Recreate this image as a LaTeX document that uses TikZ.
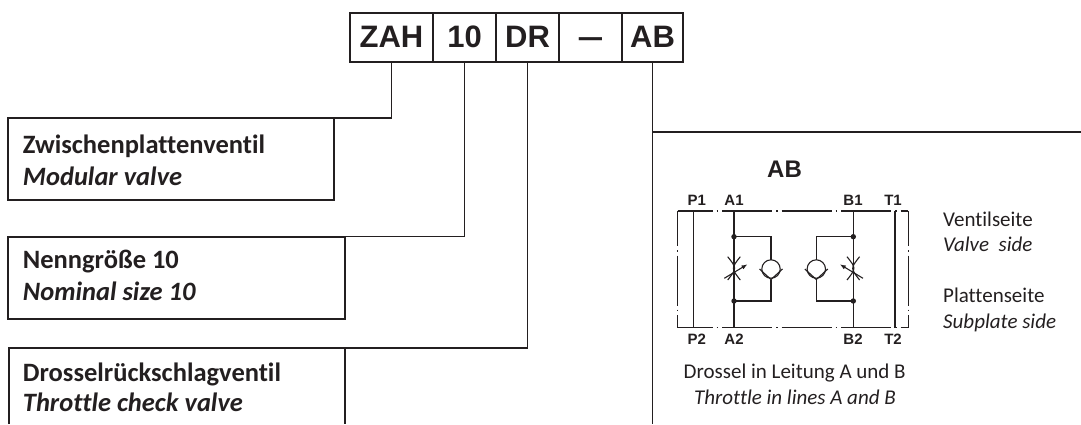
\documentclass[tikz,border=0pt]{standalone}
\usepackage{fontspec}
\setmainfont{Carlito}[Ligatures={NoCommon}]
\newfontfamily\arialfont{Liberation Sans}
\usepackage{tikz}
\usetikzlibrary{arrows.meta}
\definecolor{ink}{HTML}{231F20}
\tikzset{codebox/.style = {draw=ink, line width=2pt, inner sep=0pt, outer sep=0pt, minimum height=48.4pt, text height=22pt, text depth=2.5pt, font=\arialfont\bfseries\fontsize{31}{31}\selectfont}}
\tikzset{descbox/.style = {draw=ink, line width=2pt, inner sep=0pt, outer sep=0pt}}
\tikzset{desctext/.style = {anchor=base west, inner sep=0pt, font=\bfseries\fontsize{26.5}{30}\selectfont}}
\tikzset{desctextit/.style = {desctext, font=\bfseries\itshape\fontsize{26.5}{30}\selectfont}}
\tikzset{conn/.style = {draw=ink, line width=1.8pt}}
\tikzset{sidetext/.style = {anchor=base west, inner sep=0pt, font=\fontsize{21}{24}\selectfont}}
\tikzset{sidetextit/.style = {sidetext, font=\itshape\fontsize{21}{24}\selectfont}}
\tikzset{port/.style = {anchor=base, inner sep=0pt, font=\arialfont\bfseries\fontsize{15}{15}\selectfont}}
\tikzset{sym/.style = {draw=ink, line width=1.1pt}}
\tikzset{chain/.style = {sym, dash pattern=on 50pt off 4pt on 1.5pt off 4pt, dash phase=15pt}}

\begin{document}
\begin{tikzpicture}[x=1pt, y=-1pt, text=ink]
            \useasboundingbox (0,0) rectangle (1081,424);

            % Type code
            \node[codebox, minimum width=83pt] (zah) at (391.5,37.5) {ZAH};
            \node[codebox, minimum width=63pt] (nenn) at (464.5,37.5) {10};
            \node[codebox, minimum width=63pt] (dr) at (527.5,37.5) {DR};
            \node[codebox, minimum width=63pt] (sep) at (590.5,37.5) {\scalebox{0.75}[1]{—}};
            \node[codebox, minimum width=61pt] (ab) at (652.5,37.5) {AB};

            % Description boxes
            \node[descbox, minimum width=326pt, minimum height=81.2pt] (zwp) at (171,158.9) {};
            \node[descbox, minimum width=337pt, minimum height=82.5pt] (ngr) at (176.5,277.75) {};
            \node[inner sep=0pt, outer sep=0pt, minimum width=336pt, minimum height=76pt] (drv) at (176.5,386) {};
            \draw[draw=ink, line width=2pt] (drv.south west) |- (drv.north east) -- (drv.south east);

            \node[desctext] (zwp-de) at (22.7,153.3) {Zwischenplattenventil};
            \node[desctextit] (zwp-en) at (22.7,185) {Modular valve};
            \node[desctext] (ngr-de) at (22.7,268.3) {Nenngröße 10};
            \node[desctextit] (ngr-en) at (22.7,300) {Nominal size 10};
            \node[desctext] (drv-de) at (22.7,381) {Drosselrückschlagventil};
            \node[desctextit] (drv-en) at (22.7,411.7) {Throttle check valve};

            % Connectors
            \coordinate (abfoot) at (651.5,424);
            \coordinate (abend) at (1081,132);
            \draw[conn] (zah.south) |- (zwp.north east);
            \draw[conn] (nenn.south) |- (ngr.north east);
            \draw[conn] (dr.south) |- (drv.north east);
            \draw[conn] (ab.south) -- (ab.south |- abfoot);
            \draw[conn] (ab.south |- abend) -- (abend);

            % Symbol AB
            \node[anchor=base, inner sep=0pt, font=\arialfont\bfseries\fontsize{24}{24}\selectfont] (abtitle) at (784.5,177) {AB};
            \node[port] (p1) at (696.7,205) {P1};
            \node[port] (a1) at (734,205) {A1};
            \node[port] (b1) at (853,205) {B1};
            \node[port] (t1) at (893,205) {T1};
            \node[port] (p2) at (696.7,344) {P2};
            \node[port] (a2) at (734,344) {A2};
            \node[port] (b2) at (853,344) {B2};
            \node[port] (t2) at (893,344) {T2};

            \coordinate (nw) at (677.7,211);
            \coordinate (ne) at (908.3,211);
            \coordinate (sw) at (677.7,327.5);
            \coordinate (se) at (908.3,327.5);
            \draw[chain] (nw) -- (ne);
            \draw[chain] (sw) -- (se);
            \draw[chain] (nw) -- (sw);
            \draw[chain] (ne) -- (se);

            \foreach \x in {693.3,734,853.3,895}
                \draw[sym] (\x,211) -- (\x,327.5);

            % throttle and check valve, A and B
            \foreach \x/\s in {734/1,853.3/-1} {
                \begin{scope}[shift={(\x,268.3)}, xscale=\s]
                    \fill[ink] (0,-31.6) circle[radius=2.7];
                    \fill[ink] (0,32.7) circle[radius=2.7];
                    \draw[sym] (0,-31.6) -| (37,-8.5);
                    \draw[sym] (37,11.2) |- (0,32.7);
                    \draw[sym] (37,0.7) circle[radius=9.2];
                    \draw[sym] (25.5,0.7) -- (37,11.2) -- (48.5,0.7);
                    \draw[sym] (-6.3,-11.6) .. controls (2.9,0) .. (-6.3,11.7);
                    \draw[sym] (6.3,-11.6) .. controls (-2.9,0) .. (6.3,11.7);
                    \draw[sym, -{Latex[length=6pt,width=4.5pt]}] (-9.7,10) -- (13.5,-4);
                \end{scope}
            }

            % Side texts
            \node[sidetext] (vs-de) at (943,226) {Ventilseite};
            \node[sidetextit] (vs-en) at (943,251.7) {Valve~ side};
            \node[sidetext] (ps-de) at (943,302.7) {Plattenseite};
            \node[sidetextit] (ps-en) at (943,328) {Subplate side};
            \node[sidetext, anchor=base] (cap-de) at (794.7,378) {Drossel in Leitung A und B};
            \node[sidetextit, anchor=base] (cap-en) at (795,404) {Throttle in lines A and B};
        \end{tikzpicture}
\end{document}
